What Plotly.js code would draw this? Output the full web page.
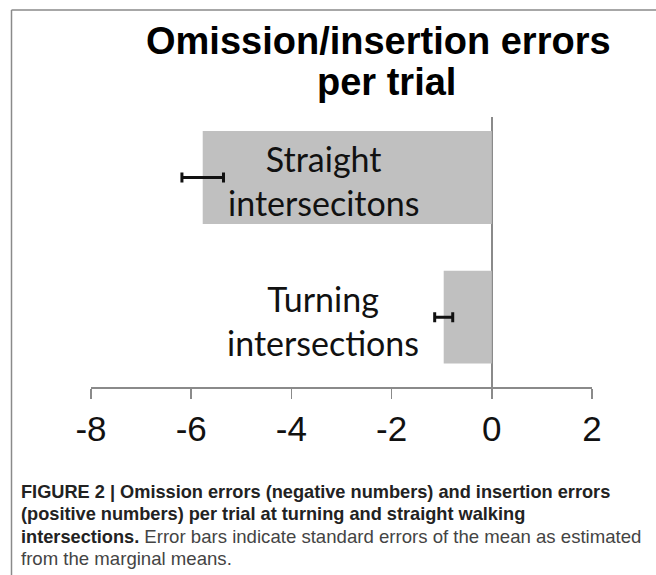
<!DOCTYPE html>
<html><head><meta charset="utf-8">
<script src="https://cdn.plot.ly/plotly-3.0.1.min.js"></script>
<style>html,body{margin:0;padding:0;background:#fff;} #chart{width:656px;height:575px;}</style>
</head><body><div id="chart"></div>
<script>
// ---- data ----
const categories = ['Straight intersecitons', 'Turning intersections'];
const categoryLabels = ['Straight<br>intersecitons', 'Turning<br>intersections'];
const categoryPositions = [1, 0];
const meanErrors = [-5.77, -0.96];
const standardErrors = [0.415, 0.18];
const xTickValues = [-8, -6, -4, -2, 0, 2];
const xTickLabels = ['-8', '-6', '-4', '-2', '0', '2'];
const titleLines = ['Omission/insertion errors', 'per trial'];
const captionLines = [
  '<b>FIGURE 2 | Omission errors (negative numbers) and insertion errors</b>',
  '<b>(positive numbers) per trial at turning and straight walking</b>',
  '<b>intersections.</b> <span style="font-size:18.6px;color:#444">Error bars indicate standard errors of the mean as estimated</span>',
  '<span style="font-size:18.6px;color:#444">from the marginal means.</span>'
];

// ---- layout geometry ----
const W = 656, H = 575;
const M = {l: 91, r: 64, t: 117, b: 188};
const PW = W - M.l - M.r, PH = H - M.t - M.b;
const px2x = p => (p - M.l) / PW;
const py2y = p => (H - M.b - p) / PH;
const gray = '#8a8a8a';

const bars = {
  type: 'bar', orientation: 'h',
  y: categoryPositions, x: meanErrors, text: categories,
  width: 0.665,
  marker: {color: '#c0c0c0', line: {width: 0}},
  error_x: {type: 'data', array: standardErrors, visible: true, color: '#111', thickness: 3, width: 5},
  hoverinfo: 'text+x', textposition: 'none'
};

const annotations = [];
categoryLabels.forEach((t, i) => annotations.push({
  x: -3.36, y: categoryPositions[i], xref: 'x', yref: 'y', text: t, showarrow: false,
  xanchor: 'center', yanchor: 'middle', align: 'center', yshift: -3,
  font: {family: 'Lato, Carlito, sans-serif', size: 34, color: '#111'}
}));
annotations.push({
  x: px2x(378), y: py2y(41), xref: 'paper', yref: 'paper', text: titleLines[0], showarrow: false,
  xanchor: 'center', yanchor: 'middle',
  font: {family: 'Liberation Sans, Arial, sans-serif', size: 38, color: '#000', weight: 'bold'}
});
annotations.push({
  x: px2x(386), y: py2y(82), xref: 'paper', yref: 'paper', text: titleLines[1], showarrow: false,
  xanchor: 'center', yanchor: 'middle',
  font: {family: 'Liberation Sans, Arial, sans-serif', size: 38, color: '#000', weight: 'bold'}
});
const captionTops = [480, 502, 524, 545.5];
captionLines.forEach((t, i) => annotations.push({
  x: px2x(19), y: py2y(captionTops[i]), xref: 'paper', yref: 'paper', text: t, showarrow: false,
  xanchor: 'left', yanchor: 'top', align: 'left',
  font: {family: 'Liberation Sans, Arial, sans-serif', size: 18.2, color: '#222'}
}));

const shapes = [
  {type: 'line', xref: 'paper', yref: 'paper', x0: px2x(11.5), x1: px2x(11.5), y0: py2y(10), y1: py2y(H + 5), line: {color: gray, width: 1.5}},
  {type: 'line', xref: 'paper', yref: 'paper', x0: px2x(11.5), x1: px2x(W + 5), y0: py2y(10), y1: py2y(10), line: {color: gray, width: 1.5}}
];

const layout = {
  width: W, height: H, margin: M,
  paper_bgcolor: '#fff', plot_bgcolor: '#fff',
  showlegend: false,
  xaxis: {
    range: [-8, 2], tickmode: 'array', tickvals: xTickValues, ticktext: xTickLabels,
    ticks: 'outside', ticklen: 10, tickwidth: 1.5, tickcolor: gray,
    showline: true, linecolor: gray, linewidth: 1.5,
    zeroline: true, zerolinecolor: gray, zerolinewidth: 1.5,
    showgrid: false, fixedrange: true,
    tickfont: {family: 'Liberation Sans, Arial, sans-serif', size: 35, color: '#111'}
  },
  yaxis: {
    range: [-0.5, 1.433], showticklabels: false, ticks: '', showline: false,
    zeroline: false, showgrid: false, fixedrange: true
  },
  annotations: annotations, shapes: shapes
};

Plotly.newPlot('chart', [bars], layout, {displayModeBar: false, staticPlot: true});
</script></body></html>
